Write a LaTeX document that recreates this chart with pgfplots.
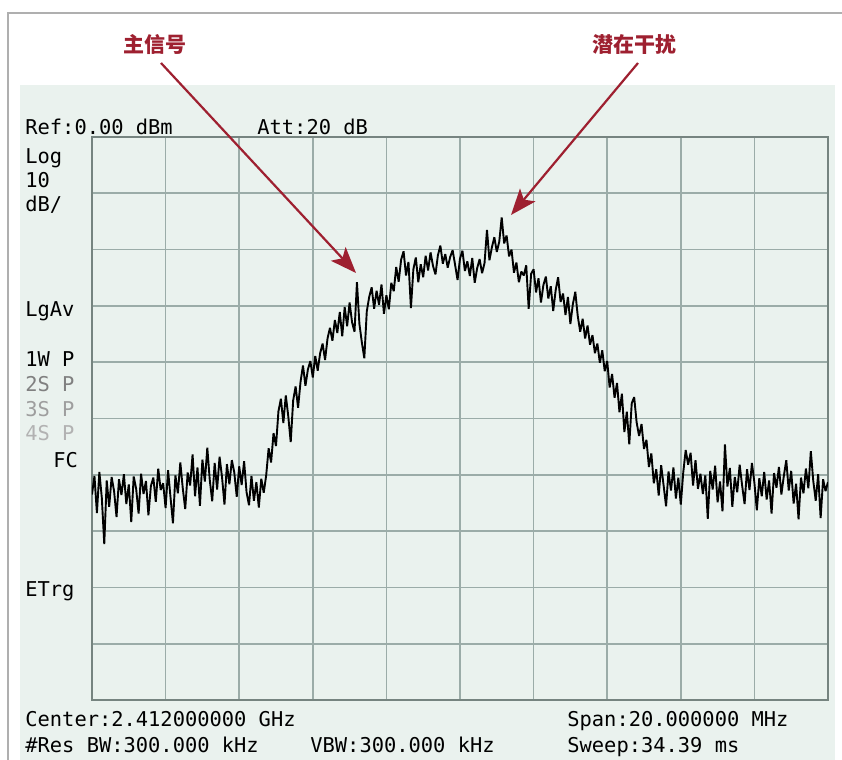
\documentclass[border=0pt]{standalone}
\usepackage{pgfplots}
\pgfplotsset{compat=1.18}
\usepackage{fontspec}
\usetikzlibrary{arrows.meta}
\newfontfamily\mono{DejaVu Sans Mono}
\newfontfamily\cjk{Noto Sans CJK SC}
\definecolor{panel}{RGB}{234,242,238}
\definecolor{gridc}{RGB}{155,172,168}
\definecolor{framec}{RGB}{118,132,128}
\definecolor{anno}{RGB}{158,32,48}
\definecolor{outer}{RGB}{175,175,175}
\newcommand{\mfont}{\mono\fontsize{10.2pt}{12pt}\selectfont}
\begin{document}
\begin{tikzpicture}
% backgrounds
\fill[white] (0,0) rectangle (421pt,380pt);
\draw[outer, line width=0.6pt] (4pt,0) -- (4pt,373.5pt) -- (421pt,373.5pt);
\fill[panel] (10pt,0) rectangle (417.5pt,337.5pt);
\begin{axis}[
  at={(46pt,30pt)}, anchor=south west,
  scale only axis, width=368pt, height=281.5pt,
  xmin=0, xmax=300, ymin=-100, ymax=0,
  xtick={0,30,...,300}, ytick={-100,-90,...,0},
  xticklabels={}, yticklabels={},
  major tick length=0pt,
  grid=major,
  grid style={gridc, line width=0.85pt},
  axis line style={framec, line width=1.4pt},
  axis background/.style={fill=panel},
  clip=true,
]
\addplot[black, line width=0.95pt, mark=none, line join=miter, miter limit=2] coordinates {
(0,-63.5)(1,-60.2)(2,-66.8)(3,-59.5)(4,-64.1)(5,-72.3)(6,-61.0)(7,-65.7)(8,-60.4)(9,-62.9)
(10,-67.5)(11,-60.8)(12,-63.6)(13,-59.9)(14,-65.2)(15,-61.7)(16,-68.4)(17,-60.3)(18,-62.5)(19,-66.9)
(20,-59.8)(21,-63.4)(22,-61.1)(23,-67.2)(24,-62.0)(25,-60.5)(26,-64.8)(27,-58.9)(28,-62.7)(29,-61.5)
(30,-65.9)(31,-59.2)(32,-64.0)(33,-68.6)(34,-60.1)(35,-63.3)(36,-57.8)(37,-62.4)(38,-66.1)(39,-59.6)
(40,-61.9)(41,-56.4)(42,-63.8)(43,-58.7)(44,-65.5)(45,-57.3)(46,-61.2)(47,-55.2)(48,-60.9)(49,-64.7)
(50,-57.9)(51,-62.6)(52,-56.8)(53,-60.4)(54,-65.3)(55,-58.1)(56,-61.7)(57,-57.4)(58,-59.6)(59,-63.9)
(60,-58.5)(61,-61.8)(62,-57.6)(63,-63.1)(64,-65.4)(65,-60.2)(66,-64.6)(67,-61.3)(68,-65.8)(69,-60.7)
(70,-63.2)(71,-60.1)(72,-55.3)(73,-57.8)(74,-52.6)(75,-54.9)(76,-48.7)(77,-46.5)(78,-50.8)(79,-45.9)
(80,-49.6)(81,-54.2)(82,-46.8)(83,-44.3)(84,-48.1)(85,-43.5)(86,-40.6)(87,-44.2)(88,-41.3)(89,-39.8)
(90,-42.7)(91,-38.9)(92,-41.5)(93,-38.4)(94,-36.7)(95,-39.6)(96,-35.8)(97,-33.9)(98,-36.2)(99,-32.5)
(100,-34.8)(101,-31.1)(102,-35.4)(103,-30.2)(104,-33.6)(105,-29.4)(106,-32.9)(107,-34.6)(108,-25.8)(109,-33.2)
(110,-36.5)(111,-39.3)(112,-31.0)(113,-28.4)(114,-26.7)(115,-30.5)(116,-27.3)(117,-29.8)(118,-26.2)(119,-31.4)
(120,-28.1)(121,-30.6)(122,-25.9)(123,-27.4)(124,-23.1)(125,-25.7)(126,-21.8)(127,-20.3)(128,-24.6)(129,-22.2)
(130,-30.4)(131,-23.5)(132,-21.4)(133,-25.8)(134,-22.6)(135,-24.9)(136,-21.1)(137,-23.7)(138,-20.5)(139,-22.9)
(140,-24.4)(141,-21.0)(142,-19.3)(143,-22.5)(144,-20.8)(145,-23.2)(146,-21.3)(147,-20.1)(148,-22.7)(149,-25.4)
(150,-21.6)(151,-20.2)(152,-23.8)(153,-22.1)(154,-24.7)(155,-21.5)(156,-25.9)(157,-23.3)(158,-21.7)(159,-24.2)
(160,-22.4)(161,-16.5)(162,-21.9)(163,-19.6)(164,-17.8)(165,-20.4)(166,-18.6)(167,-14.3)(168,-18.9)(169,-17.5)
(170,-21.2)(171,-20.0)(172,-24.1)(173,-22.3)(174,-25.8)(175,-23.9)(176,-24.6)(177,-22.8)(178,-30.5)(179,-24.3)
(180,-23.5)(181,-27.6)(182,-25.1)(183,-29.4)(184,-26.3)(185,-24.8)(186,-28.7)(187,-26.5)(188,-30.9)(189,-27.2)
(190,-24.9)(191,-29.3)(192,-27.8)(193,-31.6)(194,-28.4)(195,-33.2)(196,-29.7)(197,-27.5)(198,-31.8)(199,-34.6)
(200,-32.3)(201,-35.8)(202,-33.5)(203,-36.9)(204,-35.2)(205,-38.4)(206,-36.7)(207,-40.1)(208,-37.9)(209,-41.6)
(210,-39.8)(211,-44.5)(212,-42.1)(213,-46.3)(214,-43.7)(215,-48.9)(216,-45.6)(217,-52.4)(218,-48.8)(219,-54.6)
(220,-47.3)(221,-46.2)(222,-50.7)(223,-53.1)(224,-51.0)(225,-55.4)(226,-53.8)(227,-58.6)(228,-56.2)(229,-61.5)
(230,-59.0)(231,-63.7)(232,-58.3)(233,-61.9)(234,-65.6)(235,-59.4)(236,-62.8)(237,-58.7)(238,-64.2)(239,-60.5)
(240,-65.3)(241,-59.6)(242,-55.6)(243,-58.2)(244,-56.1)(245,-61.9)(246,-57.4)(247,-62.5)(248,-59.8)(249,-63.4)
(250,-60.1)(251,-67.8)(252,-59.3)(253,-62.6)(254,-58.4)(255,-64.9)(256,-61.2)(257,-66.5)(258,-54.6)(259,-62.1)
(260,-58.8)(261,-65.7)(262,-60.4)(263,-63.1)(264,-58.2)(265,-61.9)(266,-65.2)(267,-59.0)(268,-62.7)(269,-57.9)
(270,-61.4)(271,-66.3)(272,-60.6)(273,-63.8)(274,-59.5)(275,-64.4)(276,-61.0)(277,-66.9)(278,-59.7)(279,-62.3)
(280,-58.6)(281,-63.5)(282,-60.2)(283,-57.4)(284,-62.8)(285,-59.3)(286,-65.1)(287,-61.6)(288,-67.9)(289,-60.5)
(290,-63.3)(291,-58.9)(292,-62.4)(293,-55.8)(294,-61.1)(295,-64.6)(296,-59.9)(297,-67.7)(298,-60.8)(299,-62.9)
(300,-61.3)
};
\end{axis}
% instrument texts
\begin{scope}[every node/.style={inner sep=0pt, anchor=base west, font=\mfont}]
\node at (12.5pt,312.5pt) {Ref:0.00 dBm};
\node at (128.5pt,312.5pt) {Att:20 dB};
\node at (12.5pt,298pt) {Log};
\node at (12.5pt,286pt) {10};
\node at (12.5pt,274pt) {dB/};
\node at (12.5pt,221.5pt) {LgAv};
\node at (12.5pt,196.5pt) {1W P};
\node[text=black!50] at (12.5pt,184pt) {2S P};
\node[text=black!38] at (12.5pt,171.5pt) {3S P};
\node[text=black!30] at (12.5pt,159.5pt) {4S P};
\node at (26.5pt,146pt) {FC};
\node at (12.5pt,81.5pt) {ETrg};
\node at (12.5pt,16.5pt) {Center:2.412000000 GHz};
\node at (12.5pt,3.5pt) {\#Res BW:300.000 kHz};
\node at (155pt,3.5pt) {VBW:300.000 kHz};
\node at (283.5pt,16.5pt) {Span:20.000000 MHz};
\node at (283.5pt,3.5pt) {Sweep:34.39 ms};
\end{scope}
% annotations
\node[text=anno, inner sep=0pt, font=\cjk\bfseries\fontsize{10.5pt}{12pt}\selectfont] at (77.5pt,357.5pt) {主信号};
\node[text=anno, inner sep=0pt, font=\cjk\bfseries\fontsize{10.5pt}{12pt}\selectfont] at (317pt,357.5pt) {潜在干扰};
\draw[anno, line width=1.1pt, -{Stealth[length=13pt,width=10pt,inset=3pt]}] (80.5pt,348.5pt) -- (178pt,243.5pt);
\draw[anno, line width=1.1pt, -{Stealth[length=13pt,width=10pt,inset=3pt]}] (319pt,348.5pt) -- (255.5pt,272.5pt);
\pgfresetboundingbox
\path[use as bounding box] (0,0) rectangle (421pt,380pt);
\end{tikzpicture}
\end{document}
